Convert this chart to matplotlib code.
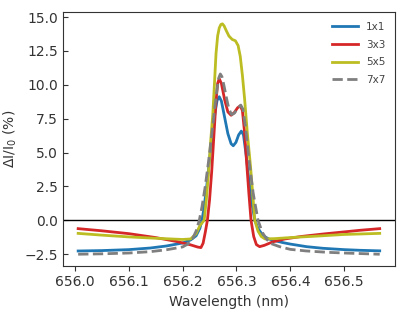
import matplotlib
matplotlib.use("Agg")
import matplotlib.pyplot as plt

# wavelength (nm) / relative change (%), one pair per binning
x_1x1 = [656.006, 656.05, 656.10, 656.14, 656.17, 656.20, 656.215, 656.225, 656.232,
         656.236, 656.240, 656.245, 656.250, 656.255, 656.260, 656.264, 656.268, 656.272,
         656.278, 656.284, 656.290, 656.294, 656.299, 656.304, 656.309, 656.313, 656.318,
         656.323, 656.328, 656.334, 656.340, 656.346, 656.352, 656.36, 656.37, 656.386,
         656.40, 656.43, 656.46, 656.50, 656.53, 656.566]
y_1x1 = [-2.27, -2.24, -2.17, -2.05, -1.90, -1.68, -1.45, -1.15, -0.6,
         0.0, 1.0, 2.6, 4.5, 6.3, 7.9, 8.85, 9.12, 8.8,
         7.6, 6.4, 5.65, 5.5, 5.75, 6.3, 6.58, 6.3, 4.8,
         3.0, 1.4, 0.0, -0.6, -0.95, -1.2, -1.38, -1.5, -1.65,
         -1.76, -1.95, -2.07, -2.17, -2.22, -2.26]

x_3x3 = [656.006, 656.05, 656.10, 656.15, 656.19, 656.215, 656.228, 656.234, 656.238,
         656.242, 656.246, 656.250, 656.254, 656.258, 656.262, 656.265, 656.268, 656.272,
         656.278, 656.284, 656.290, 656.296, 656.302, 656.307, 656.311, 656.315, 656.319,
         656.323, 656.327, 656.332, 656.337, 656.343, 656.352, 656.367, 656.39, 656.42,
         656.46, 656.50, 656.53, 656.566]
y_3x3 = [-0.62, -0.78, -0.99, -1.28, -1.58, -1.82, -1.98, -2.02, -1.7,
         -0.9, 0.0, 1.5, 3.6, 6.2, 8.8, 10.1, 10.45, 10.1,
         8.9, 8.0, 7.75, 7.95, 8.3, 8.45, 8.1, 6.5, 4.2,
         2.0, 0.0, -1.2, -1.8, -1.95, -1.85, -1.6, -1.38, -1.2,
         -1.02, -0.86, -0.74, -0.62]

x_5x5 = [656.006, 656.05, 656.10, 656.15, 656.20, 656.215, 656.225, 656.232, 656.240,
         656.244, 656.248, 656.252, 656.256, 656.259, 656.262, 656.265, 656.268, 656.271,
         656.274, 656.277, 656.281, 656.286, 656.292, 656.298, 656.303, 656.307, 656.311,
         656.315, 656.320, 656.326, 656.330, 656.334, 656.340, 656.346, 656.353, 656.37,
         656.40, 656.45, 656.50, 656.566]
y_5x5 = [-0.97, -1.10, -1.23, -1.33, -1.42, -1.38, -1.0, -0.4, 0.0,
         1.5, 3.5, 5.8, 7.8, 10.0, 12.3, 13.6, 14.2, 14.45,
         14.5, 14.35, 14.0, 13.6, 13.35, 13.25, 12.9, 12.1, 10.7,
         9.0, 6.5, 4.0, 2.0, 0.0, -0.8, -1.2, -1.38, -1.36,
         -1.28, -1.17, -1.05, -0.97]

x_7x7 = [656.006, 656.05, 656.10, 656.14, 656.17, 656.20, 656.21, 656.218, 656.225,
         656.231, 656.236, 656.242, 656.248, 656.254, 656.260, 656.264, 656.267, 656.270,
         656.273, 656.277, 656.281, 656.286, 656.291, 656.296, 656.302, 656.308, 656.312,
         656.317, 656.324, 656.331, 656.340, 656.348, 656.356, 656.364, 656.38, 656.40,
         656.43, 656.47, 656.50, 656.566]
y_7x7 = [-2.51, -2.48, -2.42, -2.32, -2.18, -1.97, -1.75, -1.40, -0.8,
         0.0, 1.0, 2.5, 4.3, 6.3, 8.4, 9.7, 10.5, 10.8,
         10.6, 9.9, 9.1, 8.2, 7.8, 7.9, 8.25, 8.5, 8.2,
         6.8, 4.2, 2.0, 0.0, -0.9, -1.4, -1.72, -1.95, -2.15,
         -2.27, -2.37, -2.42, -2.51]

plt.rcParams['mathtext.fontset'] = 'dejavusans'

fig = plt.figure(figsize=(4.07, 3.16), dpi=100)
ax = fig.add_axes([0.155, 0.159, 0.815, 0.802])

ax.axhline(0, color='black', lw=1)
ax.plot(x_1x1, y_1x1, color='#1f77b4', lw=2, label='1x1')
ax.plot(x_3x3, y_3x3, color='#d62728', lw=2, label='3x3')
ax.plot(x_5x5, y_5x5, color='#bcbd22', lw=2, label='5x5')
ax.plot(x_7x7, y_7x7, color='#7f7f7f', lw=2, ls='--', label='7x7')

ax.set_xticks([656.0, 656.1, 656.2, 656.3, 656.4, 656.5])
ax.set_yticks([-2.5, 0.0, 2.5, 5.0, 7.5, 10.0, 12.5, 15.0])
ax.tick_params(axis='y', direction='in', labelsize=10, colors='#333333')
ax.tick_params(axis='x', direction='out', labelsize=10, colors='#333333')
for s in ax.spines.values():
    s.set_color('#333333')

ax.set_xlabel('Wavelength (nm)', fontsize=10, color='#333333')
ax.set_ylabel('ΔI/I$_0$ (%)', fontsize=10, color='#333333')

leg = ax.legend(loc='upper right', frameon=False, fontsize=7.5,
                handlelength=2.5, labelspacing=0.75)
for t in leg.get_texts():
    t.set_color('#444444')

fig.savefig('out.png', dpi=100)
